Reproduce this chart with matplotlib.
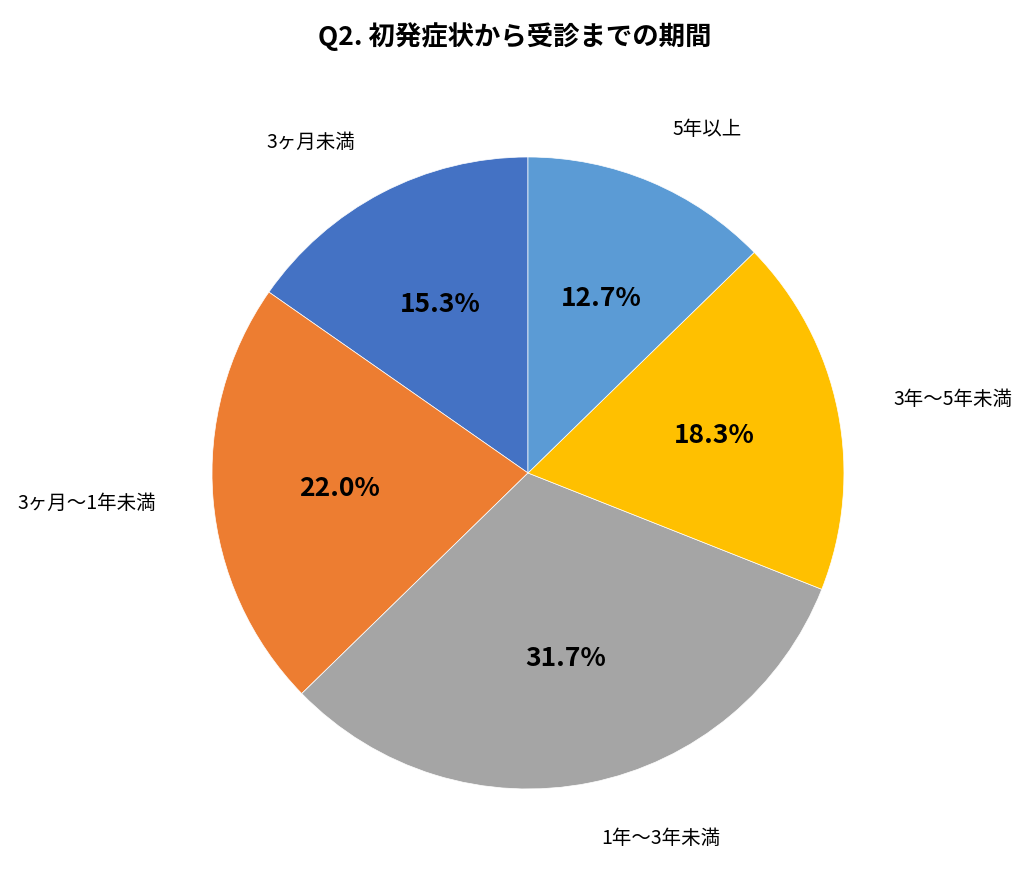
import matplotlib
matplotlib.use("Agg")
import matplotlib.pyplot as plt

plt.rcParams['font.family'] = ['Noto Sans CJK JP', 'DejaVu Sans']

labels = ["3ヶ月未満", "3ヶ月〜1年未満", "1年〜3年未満", "3年〜5年未満", "5年以上"]
values = [15.3, 22.0, 31.7, 18.3, 12.7]
colors = ["#4472C4", "#ED7D31", "#A5A5A5", "#FFC000", "#5B9BD5"]

fig = plt.figure(figsize=(10.3, 8.83), dpi=100)
ax = fig.add_axes([0.2058, 0.1065, 0.6136, 0.7157])
wedges, texts, autotexts = ax.pie(
    values, labels=labels, colors=colors, startangle=90, counterclock=True,
    autopct=lambda p: f"{p:.1f}%", pctdistance=0.6, labeldistance=1.18,
    wedgeprops=dict(linewidth=0.5, edgecolor="white"),
    textprops=dict(fontsize=14, clip_on=False), frame=False)
for t in autotexts:
    t.set_fontsize(19)
    t.set_fontweight("bold")
ax.set_xlim(-1, 1)
ax.set_ylim(-1, 1)
ax.set_aspect("equal")
ax.axis("off")
fig.suptitle("Q2. 初発症状から受診までの期間", fontsize=19, fontweight="bold", y=0.975)
fig.savefig("out.png", dpi=100)
